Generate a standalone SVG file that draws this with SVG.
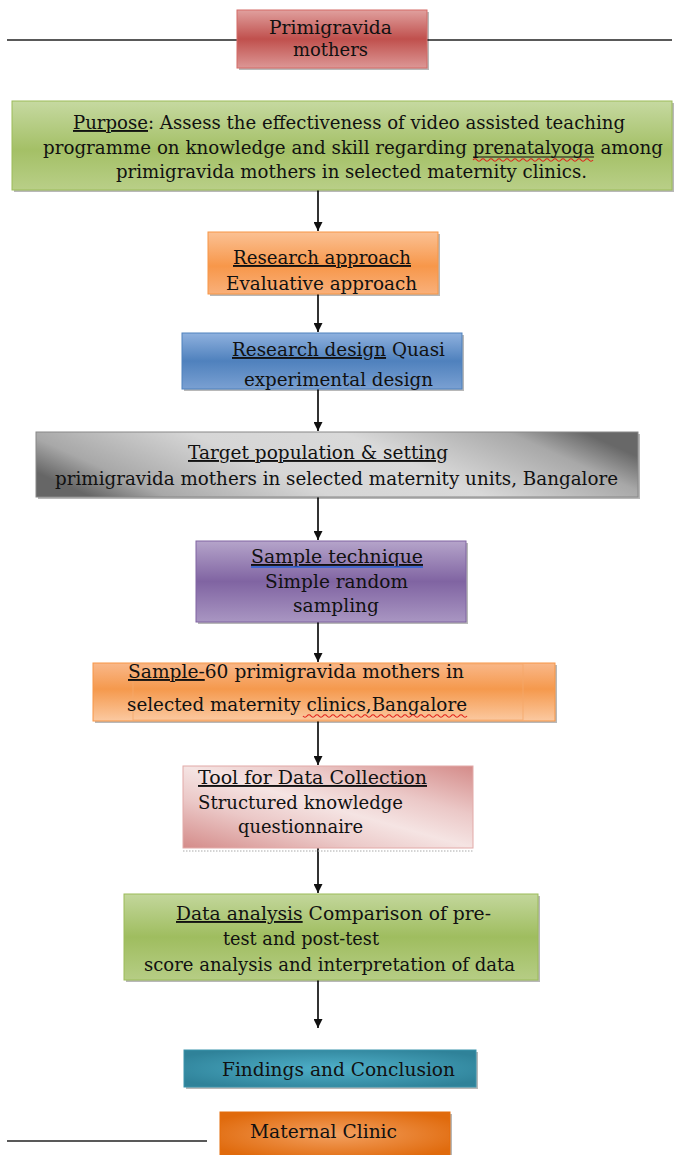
<svg xmlns="http://www.w3.org/2000/svg" width="676" height="1155" viewBox="0 0 676 1155">
<style>
text{font-family:"DejaVu Serif","Liberation Serif",serif;font-size:19px;fill:#111}
.u{text-decoration:underline}
.shadow{fill:#000;opacity:0.28}
.wavy{fill:none;stroke:#e0201a;stroke-width:1.2}
.conn{stroke:#333;stroke-width:2;fill:none}
.rule{stroke:#222;stroke-width:1.6}
</style>
<defs>
<marker id="ah" viewBox="0 0 10 10" refX="10" refY="5" markerWidth="4.5" markerHeight="4.5" orient="auto" markerUnits="strokeWidth">
<path d="M0,0 L10,5 L0,10 z" fill="#111"/>
</marker>
<linearGradient id="gRed" x1="0" y1="0" x2="0" y2="1"><stop offset="0" stop-color="#e0a09e"/><stop offset="0.5" stop-color="#c0504d"/><stop offset="1" stop-color="#dc9795"/></linearGradient>
<linearGradient id="gGreen" x1="0" y1="0" x2="0" y2="1"><stop offset="0" stop-color="#c6d9a1"/><stop offset="0.55" stop-color="#a4c066"/><stop offset="1" stop-color="#b9cf88"/></linearGradient>
<linearGradient id="gOrange" x1="0" y1="0" x2="0" y2="1"><stop offset="0" stop-color="#fbc194"/><stop offset="0.55" stop-color="#f7974a"/><stop offset="1" stop-color="#f9b07a"/></linearGradient>
<linearGradient id="gBlue" x1="0" y1="0" x2="0" y2="1"><stop offset="0" stop-color="#8fb1de"/><stop offset="0.5" stop-color="#4f81bd"/><stop offset="1" stop-color="#7aa0d2"/></linearGradient>
<linearGradient id="gGray" x1="0" y1="0.62" x2="1" y2="0.38"><stop offset="0" stop-color="#666"/><stop offset="0.12" stop-color="#a8a8a8"/><stop offset="0.38" stop-color="#d6d6d6"/><stop offset="0.62" stop-color="#d9d9d9"/><stop offset="0.88" stop-color="#a8a8a8"/><stop offset="1" stop-color="#686868"/></linearGradient>
<linearGradient id="gPurple" x1="0" y1="0" x2="0" y2="1"><stop offset="0" stop-color="#b5a4ca"/><stop offset="0.5" stop-color="#8064a2"/><stop offset="1" stop-color="#a996c2"/></linearGradient>
<linearGradient id="gSample" x1="0" y1="0" x2="0" y2="1"><stop offset="0" stop-color="#f9b88a"/><stop offset="0.45" stop-color="#f5994d"/><stop offset="1" stop-color="#fbc9a1"/></linearGradient>
<linearGradient id="gPink" x1="0" y1="1" x2="1" y2="0"><stop offset="0" stop-color="#d48b89"/><stop offset="0.3" stop-color="#ebc8c7"/><stop offset="0.5" stop-color="#f5e4e3"/><stop offset="0.7" stop-color="#ebc8c7"/><stop offset="1" stop-color="#d48b89"/></linearGradient>
<linearGradient id="gGreen2" x1="0" y1="0" x2="0" y2="1"><stop offset="0" stop-color="#c3d79c"/><stop offset="0.5" stop-color="#9fbd5f"/><stop offset="1" stop-color="#b6cd85"/></linearGradient>
<radialGradient id="gTeal" cx="0.5" cy="0.5" r="0.6"><stop offset="0" stop-color="#4fb0c9"/><stop offset="1" stop-color="#2f8299"/></radialGradient>
<radialGradient id="gMat" cx="0.5" cy="0.5" r="0.6"><stop offset="0" stop-color="#f3a060"/><stop offset="1" stop-color="#e06a0c"/></radialGradient>
</defs>

<g id="rules">
<line class="rule" x1="7" y1="40" x2="237" y2="40"/>
<line class="rule" x1="427" y1="40" x2="672" y2="40"/>
<line class="rule" x1="7" y1="1141" x2="207" y2="1141"/>
</g>

<g id="connectors">
<line class="conn" x1="318" y1="190" x2="318" y2="231" marker-end="url(#ah)"/>
<line class="conn" x1="318" y1="294" x2="318" y2="332" marker-end="url(#ah)"/>
<line class="conn" x1="318" y1="389" x2="318" y2="431" marker-end="url(#ah)"/>
<line class="conn" x1="318" y1="497" x2="318" y2="540" marker-end="url(#ah)"/>
<line class="conn" x1="318" y1="622" x2="318" y2="662" marker-end="url(#ah)"/>
<line class="conn" x1="318" y1="721" x2="318" y2="765" marker-end="url(#ah)"/>
<line class="conn" x1="318" y1="848" x2="318" y2="893" marker-end="url(#ah)"/>
<line class="conn" x1="318" y1="980" x2="318" y2="1028" marker-end="url(#ah)"/>
</g>

<g id="n-primigravida">
<rect class="shadow" x="239" y="12" width="190" height="58"/>
<rect x="237" y="10" width="190" height="58" fill="url(#gRed)" stroke="#d46a67" stroke-width="1"/>
<text x="269" y="34" textLength="123" lengthAdjust="spacingAndGlyphs">Primigravida</text>
<text x="293" y="56" textLength="75" lengthAdjust="spacingAndGlyphs">mothers</text>
</g>

<g id="n-purpose">
<rect class="shadow" x="14" y="103" width="660" height="89"/>
<rect x="12" y="101" width="660" height="89" fill="url(#gGreen)" stroke="#9bbb59" stroke-width="1"/>
<text x="73" y="129" textLength="552" lengthAdjust="spacingAndGlyphs"><tspan class="u">Purpose</tspan>: Assess the effectiveness of video assisted teaching</text>
<text x="43" y="154" font-size="18" textLength="620" lengthAdjust="spacingAndGlyphs">programme on knowledge and skill regarding prenatalyoga among</text>
<line x1="473" y1="157" x2="594" y2="157" stroke="#111" stroke-width="1"/>
<path class="wavy" d="M473,160 q2,-2.5 4,0 t4,0 t4,0 t4,0 t4,0 t4,0 t4,0 t4,0 t4,0 t4,0 t4,0 t4,0 t4,0 t4,0 t4,0 t4,0 t4,0 t4,0 t4,0 t4,0 t4,0 t4,0 t4,0 t4,0 t4,0 t4,0 t4,0 t4,0 t4,0 t4,0"/>
<text x="116" y="178" textLength="471" lengthAdjust="spacingAndGlyphs">primigravida mothers in selected maternity clinics.</text>
</g>

<g id="n-approach">
<rect class="shadow" x="210" y="234" width="230" height="62"/>
<rect x="208" y="232" width="230" height="62" fill="url(#gOrange)" stroke="#f79646" stroke-width="1"/>
<text x="233" y="264" textLength="178" lengthAdjust="spacingAndGlyphs"><tspan class="u">Research approach</tspan></text>
<text x="226" y="290" textLength="191" lengthAdjust="spacingAndGlyphs">Evaluative approach</text>
</g>

<g id="n-design">
<rect class="shadow" x="184" y="335" width="280" height="56"/>
<rect x="182" y="333" width="280" height="56" fill="url(#gBlue)" stroke="#4f81bd" stroke-width="1"/>
<text x="232" y="356" textLength="213" lengthAdjust="spacingAndGlyphs"><tspan class="u">Research design</tspan> Quasi</text>
<text x="244" y="386" textLength="189" lengthAdjust="spacingAndGlyphs">experimental design</text>
</g>

<g id="n-target">
<rect class="shadow" x="38" y="434" width="602" height="65"/>
<rect x="36" y="432" width="602" height="65" fill="url(#gGray)" stroke="#888" stroke-width="1"/>
<text x="188" y="459" textLength="260" lengthAdjust="spacingAndGlyphs"><tspan class="u">Target population &amp; setting</tspan></text>
<text x="55" y="485" textLength="563" lengthAdjust="spacingAndGlyphs">primigravida mothers in selected maternity units, Bangalore</text>
</g>

<g id="n-technique">
<rect class="shadow" x="198" y="543" width="270" height="81"/>
<rect x="196" y="541" width="270" height="81" fill="url(#gPurple)" stroke="#8064a2" stroke-width="1"/>
<text x="251" y="563" textLength="172" lengthAdjust="spacingAndGlyphs"><tspan class="u">Sample  technique</tspan></text>
<line x1="251" y1="567" x2="423" y2="567" stroke="#2a62d8" stroke-width="1.4"/>
<text x="265" y="588" textLength="143" lengthAdjust="spacingAndGlyphs">Simple random</text>
<text x="293" y="612" textLength="86" lengthAdjust="spacingAndGlyphs">sampling</text>
</g>

<g id="n-sample">
<rect class="shadow" x="95" y="665" width="462" height="58"/>
<rect x="93" y="663" width="462" height="58" fill="url(#gSample)" stroke="#f79646" stroke-width="1"/>
<rect x="133" y="664" width="390" height="56" fill="none" stroke="#f6a86a" stroke-width="0.8"/>
<text x="128" y="678" textLength="336" lengthAdjust="spacingAndGlyphs"><tspan class="u">Sample-</tspan>60 primigravida mothers in</text>
<text x="127" y="711" textLength="340" lengthAdjust="spacingAndGlyphs">selected maternity clinics,Bangalore</text>
<path class="wavy" d="M303,716 q2,2.5 4,0 t4,0 t4,0 t4,0 t4,0 t4,0 t4,0 t4,0 t4,0 t4,0 t4,0 t4,0 t4,0 t4,0 t4,0 t4,0 t4,0 t4,0 t4,0 t4,0 t4,0 t4,0 t4,0 t4,0 t4,0 t4,0 t4,0 t4,0 t4,0 t4,0 t4,0 t4,0 t4,0 t4,0 t4,0 t4,0 t4,0 t4,0 t4,0 t4,0 t4,0"/>
</g>

<g id="n-tool">
<rect x="183" y="766" width="290" height="82" fill="url(#gPink)" stroke="#e2aaa8" stroke-width="1"/>
<line x1="183" y1="851" x2="473" y2="851" stroke="#aaa" stroke-width="1.2" stroke-dasharray="1.5 1.5"/>
<text x="198" y="784" textLength="229" lengthAdjust="spacingAndGlyphs"><tspan class="u">Tool for Data Collection</tspan></text>
<text x="198" y="809" textLength="205" lengthAdjust="spacingAndGlyphs">Structured knowledge</text>
<text x="238" y="833" textLength="125" lengthAdjust="spacingAndGlyphs">questionnaire</text>
</g>

<g id="n-analysis">
<rect class="shadow" x="126" y="896" width="414" height="86"/>
<rect x="124" y="894" width="414" height="86" fill="url(#gGreen2)" stroke="#9bbb59" stroke-width="1"/>
<text x="176" y="920" textLength="315" lengthAdjust="spacingAndGlyphs"><tspan class="u">Data analysis</tspan> Comparison of pre-</text>
<text x="223" y="945" textLength="156" lengthAdjust="spacingAndGlyphs">test and post-test</text>
<text x="144" y="971" textLength="371" lengthAdjust="spacingAndGlyphs">score analysis and interpretation of data</text>
</g>

<g id="n-findings">
<rect class="shadow" x="186" y="1052" width="292" height="37"/>
<rect x="184" y="1050" width="292" height="37" fill="url(#gTeal)" stroke="#3a93ab" stroke-width="1"/>
<text x="222" y="1076" textLength="233" lengthAdjust="spacingAndGlyphs">Findings and Conclusion</text>
</g>

<g id="n-maternal">
<rect class="shadow" x="222" y="1114" width="230" height="45"/>
<rect x="220" y="1112" width="230" height="45" fill="url(#gMat)" stroke="#e46c0a" stroke-width="1"/>
<text x="250" y="1138" textLength="147" lengthAdjust="spacingAndGlyphs">Maternal Clinic</text>
</g>
</svg>
